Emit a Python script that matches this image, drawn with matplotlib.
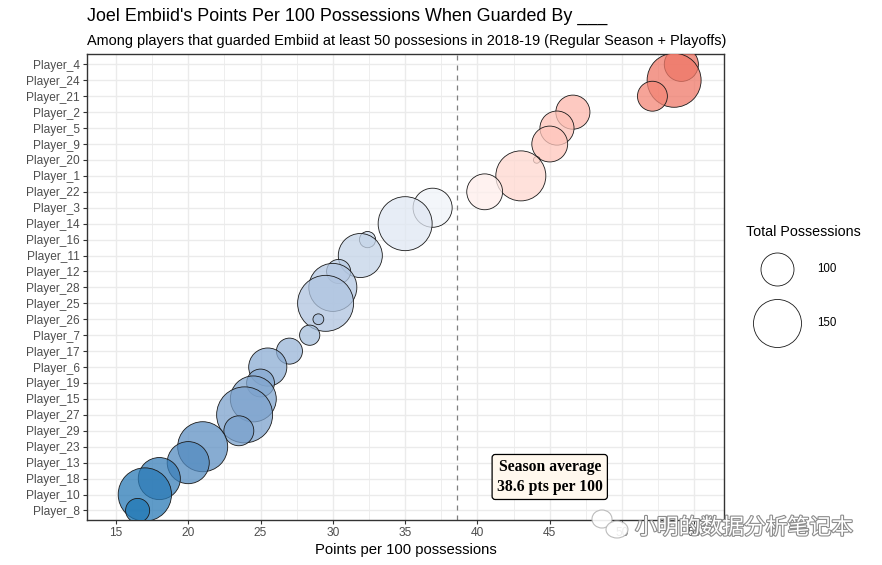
import numpy as np
import matplotlib
matplotlib.use("Agg")
import matplotlib.pyplot as plt
from matplotlib.colors import to_rgb
from matplotlib.patches import Ellipse
import matplotlib.patheffects as pe

plt.rcParams['font.family'] = ['Liberation Sans', 'DejaVu Sans']

# players listed bottom -> top (sorted by points per 100)
players = ["Player_8", "Player_10", "Player_18", "Player_13", "Player_23", "Player_29",
           "Player_27", "Player_15", "Player_19", "Player_6", "Player_17", "Player_7",
           "Player_26", "Player_25", "Player_28", "Player_12", "Player_11", "Player_16",
           "Player_14", "Player_3", "Player_22", "Player_1", "Player_20", "Player_9",
           "Player_5", "Player_2", "Player_21", "Player_24", "Player_4"]
pts = [16.5, 17.0, 18.0, 20.0, 21.0, 23.5, 23.9, 24.5, 25.0, 25.5, 27.0, 28.4,
       29.0, 29.5, 30.0, 30.4, 31.9, 32.4, 35.0, 36.9, 40.5, 43.0, 44.1, 45.0,
       45.5, 46.6, 52.1, 53.6, 54.1]
poss = [79, 172, 128, 128, 158, 92, 184, 142, 87, 115, 83, 72, 60, 184, 150, 79,
        135, 66, 175, 118, 108, 158, 57, 108, 103, 103, 92, 175, 103]
season_avg = 38.6
legend_vals = [100, 150]


def bubble(v):
    # radius in px ~ sqrt(possessions - offset), converted to scatter area (pt^2)
    r_px = 2.466 * np.sqrt(np.asarray(v, dtype=float) - 55.2)
    return (2 * r_px * 0.72) ** 2


# --- Lab interpolation (like ggplot's gradient2) ---
M = np.array([[0.4124, 0.3576, 0.1805], [0.2126, 0.7152, 0.0722], [0.0193, 0.1192, 0.9505]])
WP = np.array([0.95047, 1.0, 1.08883])

def to_lab(c):
    c = np.array(to_rgb(c))
    lin = np.where(c <= 0.04045, c / 12.92, ((c + 0.055) / 1.055) ** 2.4)
    xyz = M @ lin / WP
    f = np.where(xyz > 0.008856, np.cbrt(xyz), 7.787 * xyz + 16 / 116)
    return np.array([116 * f[1] - 16, 500 * (f[0] - f[1]), 200 * (f[1] - f[2])])

def from_lab(lab):
    L, a, b = lab
    fy = (L + 16) / 116
    f = np.array([fy + a / 500, fy, fy - b / 200])
    xyz = np.where(f ** 3 > 0.008856, f ** 3, (f - 16 / 116) / 7.787) * WP
    lin = np.linalg.solve(M, xyz)
    c = np.where(lin <= 0.0031308, 12.92 * lin, 1.055 * np.clip(lin, 0, None) ** (1 / 2.4) - 0.055)
    return np.clip(c, 0, 1)

lab_low, lab_mid, lab_high = to_lab("#1f77b4"), to_lab("#ffffff"), to_lab("#d62728")

def fill_for(v, d):
    t = (v - season_avg) / d / 2 + 0.5
    if t < 0.5:
        lab = lab_low + (lab_mid - lab_low) * (t / 0.5)
    else:
        lab = lab_mid + (lab_high - lab_mid) * ((t - 0.5) / 0.5)
    return list(from_lab(lab)) + [0.75]

pts_a = np.array(pts)
ypos = np.arange(len(players))
d = np.max(np.abs(pts_a - season_avg))
fc = np.array([fill_for(v, d) for v in pts_a])

fig = plt.figure(figsize=(8.82, 5.65), dpi=100)
ax = fig.add_axes([87/882, 1-520/565, (724-87)/882, (520-54)/565])

# grid
ax.set_xticks(np.arange(12.5, 57.6, 2.5), minor=True)
ax.grid(True, which='major', color='#ebebeb', linewidth=1.0, zorder=0)
ax.grid(True, which='minor', axis='x', color='#ebebeb', linewidth=0.6, zorder=0)
ax.set_axisbelow(True)

ax.axvline(season_avg, color='#7f7f7f', linestyle=(0, (4, 4)), linewidth=0.9, zorder=1)

# draw highest first so lower players sit on top
order = np.argsort(-pts_a, kind='stable')
ax.scatter(pts_a[order], ypos[order], s=bubble(np.array(poss)[order]),
           facecolors=fc[order], edgecolors='#1a1a1a', linewidths=0.6, zorder=3)

ax.set_xlim(13.0, 57.05)
ax.set_ylim(-0.6, 28.65)
ax.set_xticks([15, 20, 25, 30, 35, 40, 45, 50, 55])
ax.set_yticks(ypos)
ax.set_yticklabels(players)
ax.tick_params(axis='both', which='major', labelsize=8.6, labelcolor='#4d4d4d',
               color='#333333', length=3, width=0.8, pad=2)
ax.tick_params(axis='x', which='minor', length=0)
for sp in ax.spines.values():
    sp.set_color('#333333')
    sp.set_linewidth(1.0)

ax.set_xlabel('Points per 100 possessions', fontsize=10.7, labelpad=3)

ax.text(45.0, 2.1, 'Season average\n38.6 pts per 100', family=['Liberation Serif'],
        fontweight='bold', fontsize=11.3, ha='center', va='center', linespacing=1.3,
        bbox=dict(boxstyle='round,pad=0.3,rounding_size=0.2', facecolor='#fff8ee',
                  edgecolor='black', linewidth=0.9), zorder=5)

fig.text(87/882, 1-16/565, "Joel Embiid's Points Per 100 Possessions When Guarded By ___",
         fontsize=12.9, ha='left', va='center')
fig.text(87/882, 1-41/565,
         "Among players that guarded Embiid at least 50 possesions in 2018-19 (Regular Season + Playoffs)",
         fontsize=10.42, ha='left', va='center')

# size legend
fig.text(746/882, 1-232/565, 'Total Possessions', fontsize=10.3, ha='left', va='center')
handles = [ax.scatter([], [], s=bubble(v), facecolors='white', edgecolors='#1a1a1a',
                      linewidths=0.6) for v in legend_vals]
leg = fig.legend(handles, [str(v) for v in legend_vals],
                 loc='upper left', bbox_to_anchor=(744/882, 1-261/565), frameon=False,
                 fontsize=8.3, labelspacing=3.6, handlelength=5.4, handletextpad=0.74,
                 borderpad=0.2, borderaxespad=0)

# watermark (icon + text)
W, H = 882, 565
for cx, cy, w, h in [(602, 519, 20, 18), (617, 529.5, 22, 17)]:
    fig.patches.append(Ellipse((cx / W, 1 - cy / H), w / W, h / H, transform=fig.transFigure,
                               facecolor='white', edgecolor='#b5b5b5', linewidth=0.8,
                               alpha=0.9, zorder=10))
fig.text(635/W, 1-528/H, '小明的数据分析笔记本', family=['Noto Sans CJK SC', 'DejaVu Sans'],
         fontsize=15.7, color='white', ha='left', va='center', zorder=10,
         path_effects=[pe.withStroke(linewidth=1.6, foreground='#8c8c8c')])

fig.savefig('out.png', dpi=100)
